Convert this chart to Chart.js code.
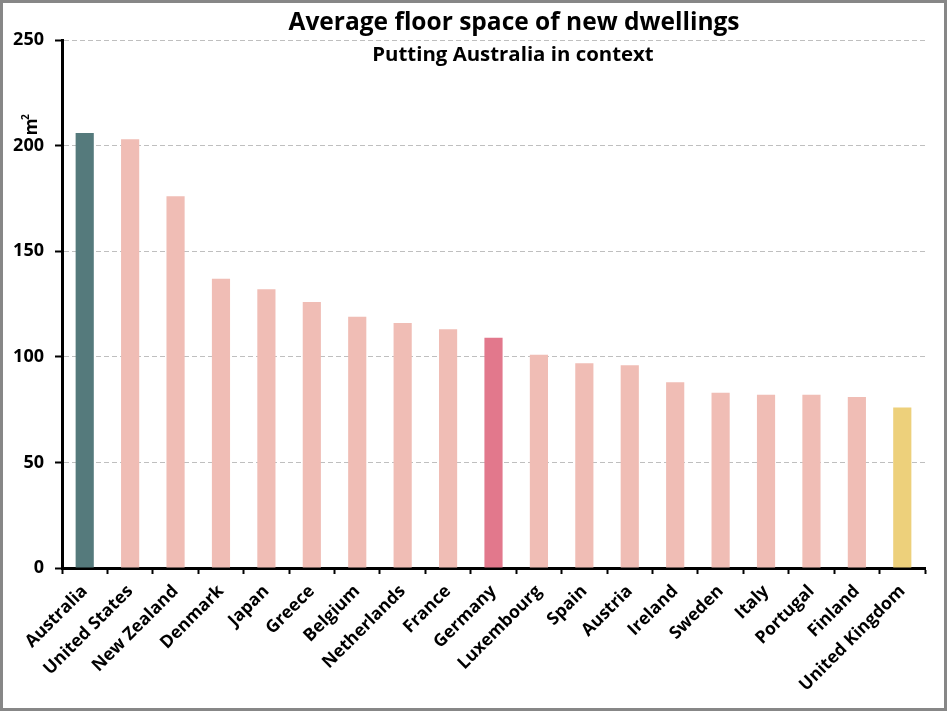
<!DOCTYPE html>
<html>
<head>
<meta charset="utf-8">
<script src="https://cdn.jsdelivr.net/npm/chart.js@4.4.1/dist/chart.umd.min.js"></script>
<style>
  html, body { margin: 0; padding: 0; background: #fff; }
  #wrap { width: 947px; height: 711px; box-sizing: border-box; border: 3px solid #878787; position: relative; }
  canvas { display: block; }
</style>
</head>
<body>
<div id="wrap"><canvas id="chart" width="941" height="705"></canvas></div>
<script>
const countries = ['Australia', 'United States', 'New Zealand', 'Denmark', 'Japan', 'Greece', 'Belgium',
  'Netherlands', 'France', 'Germany', 'Luxembourg', 'Spain', 'Austria', 'Ireland', 'Sweden', 'Italy',
  'Portugal', 'Finland', 'United Kingdom']
const floorSpace = [206, 203, 176, 137, 132, 126, 119, 116, 113, 109, 101, 97, 96, 88, 83, 82, 82, 81, 76]
const yTicks = [0, 50, 100, 150, 200, 250]

const highlight = { 'Australia': '#557A7C', 'Germany': '#E2788C', 'United Kingdom': '#EDD07B' }
const barColors = countries.map(c => highlight[c] || '#F0BDB5')

const FONT = '"Open Sans", sans-serif'

// title, subtitle and the m² label sit inside the frame, not where chart.js puts titles
const headings = {
  id: 'headings',
  afterDraw(chart) {
    const ctx = chart.ctx
    ctx.save()
    ctx.fillStyle = '#000'
    ctx.textAlign = 'center'
    ctx.font = 'bold 24.5px ' + FONT
    ctx.fillText('Average floor space of new dwellings', 511, 27)
    ctx.font = 'bold 20.4px ' + FONT
    ctx.fillText('Putting Australia in context', 510, 58)
    ctx.translate(34, 124)
    ctx.rotate(-Math.PI / 2)
    ctx.font = 'bold 17px ' + FONT
    ctx.fillText('m', 0, 0)
    ctx.font = 'bold 10px ' + FONT
    ctx.textAlign = 'left'
    ctx.fillText('2', 7, -8)
    ctx.restore()
  }
}

new Chart('chart', {
  type: 'bar',
  data: {
    labels: countries,
    datasets: [{
      data: floorSpace,
      backgroundColor: barColors,
      barPercentage: 0.8,
      categoryPercentage: 0.5
    }]
  },
  plugins: [headings],
  options: {
    responsive: false,
    animation: false,
    layout: { padding: { top: 37, right: 19, left: 0, bottom: 0 } },
    plugins: {
      legend: { display: false },
      tooltip: { enabled: false }
    },
    scales: {
      x: {
        afterFit(scale) { scale.height = 140 },
        border: { color: '#000', width: 3 },
        grid: { drawOnChartArea: false, tickColor: '#000', tickWidth: 2, tickLength: 6 },
        ticks: {
          color: '#000',
          font: { family: FONT, size: 17.5, weight: 'bold' },
          maxRotation: 45,
          minRotation: 45,
          padding: 7,
          autoSkip: false
        }
      },
      y: {
        min: 0,
        max: 250,
        afterFit(scale) { scale.width = 59 },
        afterBuildTicks(scale) { scale.ticks = yTicks.map(v => ({ value: v })) },
        border: { color: '#000', width: 3, dash: [5, 3] },
        grid: { color: '#BFBFBF', tickColor: '#000', tickWidth: 2, tickLength: 7, lineWidth: 1 },
        ticks: {
          color: '#000',
          font: { family: FONT, size: 18, weight: 'bold' },
          padding: 11
        }
      }
    }
  }
})
</script>
</body>
</html>
